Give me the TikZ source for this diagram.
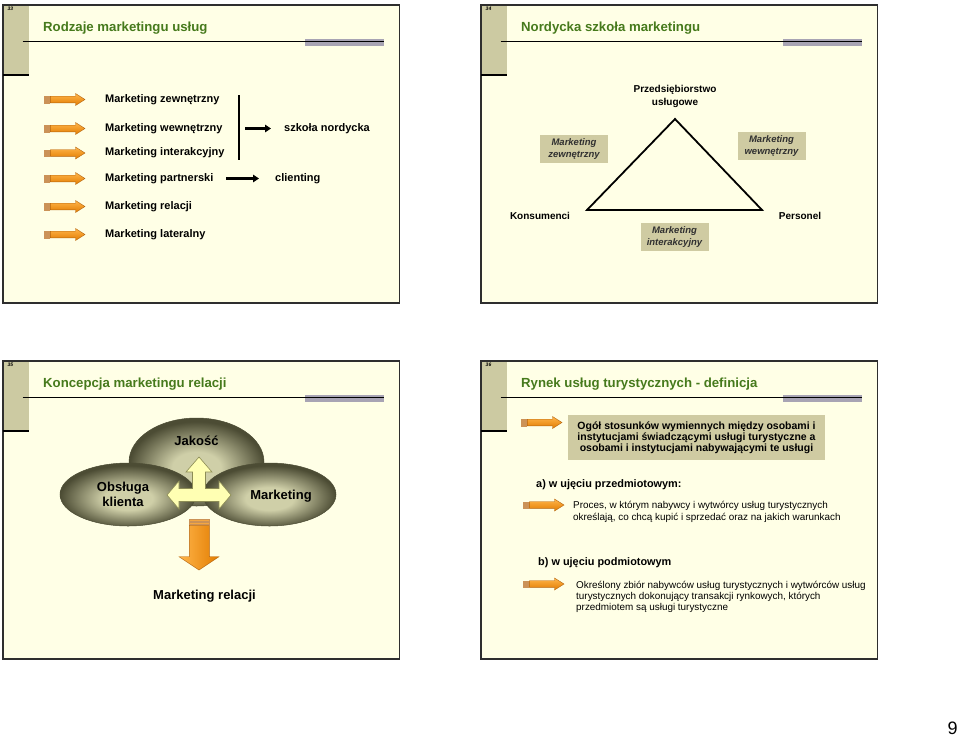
\documentclass[tikz,border=0pt]{standalone}
\usepackage{fontspec}
\setmainfont{Liberation Sans}
\usetikzlibrary{arrows.meta,shapes.geometric}
\definecolor{cream}{HTML}{FFFFE6}
\definecolor{tanstrip}{HTML}{CCCAA2}
\definecolor{ttlgreen}{HTML}{467A1C}
\definecolor{graybar}{HTML}{A8A4B4}
\definecolor{framec}{HTML}{2E2E2E}
\definecolor{orA}{HTML}{FFB54A}
\definecolor{orB}{HTML}{F7981E}
\definecolor{orC}{HTML}{E27C00}
\definecolor{orD}{HTML}{B4640F}
\definecolor{orS}{HTML}{F4A640}
\definecolor{boxtan}{HTML}{CFCBA2}
\definecolor{olD}{HTML}{4C4C34}
\definecolor{olL}{HTML}{CFCFA8}
\definecolor{yel}{HTML}{FFFFB3}
\definecolor{yelD}{HTML}{8C8C55}
\definecolor{boxtext}{HTML}{303030}
\pgfdeclareradialshading{olive}{\pgfpoint{0bp}{-4bp}}{color(0bp)=(olL); color(9bp)=(olL); color(25bp)=(olD); color(50bp)=(olD)}
\newcommand\myfs[2]{\fontsize{#1}{#2}\selectfont}
\tikzset{
  orarrow/.pic={
    \filldraw[fill=orS,draw=orD!70,line width=0.2] (0,-3.3) rectangle (1,3.3);
    \filldraw[fill=orS,draw=orD!70,line width=0.2] (2,-3.3) rectangle (3,3.3);
    \filldraw[fill=orS,draw=orD!70,line width=0.2] (4,-3.3) rectangle (5.2,3.3);
    \path[top color=orA,bottom color=orC,draw=orD,line width=0.4]
      (6.3,-3.3) -- (31.5,-3.3) -- (31.5,-6) -- (41,0) -- (31.5,6) -- (31.5,3.3) -- (6.3,3.3) -- cycle;
  },
  ttl/.style={font=\bfseries\myfs{13.2}{15}, text=ttlgreen, anchor=base west, inner sep=0},
  item/.style={font=\bfseries\myfs{11}{13}, anchor=west, inner sep=0},
  blk/.style={line width=2.2, -{Triangle[length=6,width=7.5]}},
  mbox/.style={fill=boxtan, minimum width=68, minimum height=28, inner sep=0, align=center,
    font=\bfseries\itshape\myfs{9.5}{12}, text=boxtext},
  lbl/.style={font=\bfseries\myfs{10}{12.5}, inner sep=0, align=center},
  big/.style={font=\bfseries\myfs{13}{15}, inner sep=0, align=center},
  txt/.style={font=\myfs{9.9}{12.5}, inner sep=0, align=left, anchor=west},
  snum/.style={font=\bfseries\itshape\myfs{5}{6}, inner sep=0}
}
\begin{document}
\begin{tikzpicture}[x=1pt,y=-1pt]
\useasboundingbox (0,0) rectangle (960,737);
\fill[white] (0,0) rectangle (960,737);
% slide frames
\foreach \dx/\dy/\num in {0/0/33, 478/0/34, 0/356/35, 478/356/36}{
  \begin{scope}[shift={(\dx,\dy)}]
    \filldraw[fill=cream, draw=framec, line width=1.4] (3,5) rectangle (399.5,303);
    \fill[tanstrip] (3.7,5.7) rectangle (28.5,75);
    \draw[line width=1.2] (3,75) -- (28.5,75);
    \fill[graybar] (305,38.5) rectangle (384,45.5);
    \draw[line width=0.9] (22.5,41) -- (384,41);
    \node[snum] (n\num) at (10.5,9) {\num};
  \end{scope}
}
% titles
\node[ttl] (t33) at (43,31) {Rodzaje marketingu usług};
\node[ttl] (t34) at (521,31) {Nordycka szkoła marketingu};
\node[ttl] (t35) at (43,387) {Koncepcja marketingu relacji};
\node[ttl] (t36) at (521,387) {Rynek usług turystycznych - definicja};

% ---------- slide 33 ----------
\pic (a1) at (44,99.5) {orarrow};
\pic (a2) at (44,128.5) {orarrow};
\pic (a3) at (44,153) {orarrow};
\pic (a4) at (44,178.5) {orarrow};
\pic (a5) at (44,206.5) {orarrow};
\pic (a6) at (44,234.5) {orarrow};
\node[item] (m1) at (105,99.5) {Marketing zewnętrzny};
\node[item] (m2) at (105,128.5) {Marketing wewnętrzny};
\node[item] (m3) at (105,153) {Marketing interakcyjny};
\node[item] (m4) at (105,178.5) {Marketing partnerski};
\node[item] (m5) at (105,206.5) {Marketing relacji};
\node[item] (m6) at (105,234.5) {Marketing lateralny};
\coordinate (bt) at (239,95);
\coordinate (bb) at (239,160);
\draw[line width=1.5] (bt) -- (bb);
\node[item] (nord) at (284,128.5) {szkoła nordycka};
\node[item] (cli) at (275,178.5) {clienting};
\coordinate (s1) at (245,128.5);
\coordinate (e1) at (271,128.5);
\draw[blk] (s1) -- (e1);
\coordinate (s2) at (226,178.5);
\coordinate (e2) at (259,178.5);
\draw[blk] (s2) -- (e2);

% ---------- slide 34 ----------
\node[lbl] (firm) at (675,96.5) {Przedsiębiorstwo\\usługowe};
\coordinate (apex) at (675,119);
\coordinate (bl) at (587,210);
\coordinate (br) at (762,210);
\draw[line width=1.8, line join=miter] (apex) -- (bl) -- (br) -- cycle;
\node[lbl] (kons) at (540,216) {Konsumenci};
\node[lbl] (pers) at (800,216) {Personel};
\node[mbox] (bz) at (574,149) {Marketing\\zewnętrzny};
\node[mbox] (bw) at (771.5,146) {Marketing\\wewnętrzny};
\node[mbox] (bi) at (674.5,237) {Marketing\\interakcyjny};

% ---------- slide 35 ----------
\path[shading=olive, draw=olD, line width=0.5] (196.5,462) ellipse [x radius=67.5, y radius=44];
\path[shading=olive, draw=olD, line width=0.5] (128,494.5) ellipse [x radius=68, y radius=31.5];
\path[shading=olive, draw=olD, line width=0.5] (269.5,494.5) ellipse [x radius=66.5, y radius=31.5];
\node[big] (jak) at (196.5,441) {Jakość};
\node[big] (obs) at (123,494.5) {Obsługa\\klienta};
\node[big] (mkt) at (281,496) {Marketing};
\filldraw[fill=yel, draw=yelD, line width=0.6, line join=miter]
  (167,495) -- (179,481) -- (179,488.5) -- (192.5,488.5) -- (192.5,472) -- (186,472) -- (199,457)
  -- (212,472) -- (205.5,472) -- (205.5,488.5) -- (219,488.5) -- (219,481) -- (231,495)
  -- (219,509) -- (219,501.5) -- (179,501.5) -- (179,509) -- cycle;
\filldraw[fill=orS, draw=orD!70, line width=0.2] (189.3,519.3) rectangle (209.3,520.7);
\filldraw[fill=orS, draw=orD!70, line width=0.2] (189.3,522) rectangle (209.3,524);
\path[left color=orA, right color=orC, draw=orD, line width=0.4]
  (189.3,525.3) -- (209.3,525.3) -- (209.3,556.7) -- (219,556.7) -- (199,570) -- (179,556.7) -- (189.3,556.7) -- cycle;
\node[big] (rel) at (204.5,596) {Marketing relacji};

% ---------- slide 36 ----------
\pic (b1) at (521,422.5) {orarrow};
\node[fill=boxtan, minimum width=257, minimum height=45, inner sep=0, align=center,
  font=\bfseries\myfs{10.5}{10.8}] (def) at (696.5,437.5)
  {Ogół stosunków wymiennych między osobami i\\instytucjami świadczącymi usługi turystyczne a\\osobami i instytucjami nabywającymi te usługi};
\node[item, font=\bfseries\myfs{10.9}{13}] (pa) at (536,485) {a) w ujęciu przedmiotowym:};
\pic (b2) at (523,505) {orarrow};
\node[txt] (proc) at (573,512) {Proces, w którym nabywcy i wytwórcy usług turystycznych\\określają, co chcą kupić i sprzedać oraz na jakich warunkach};
\node[item, font=\bfseries\myfs{10.9}{13}] (pb) at (538,563) {b) w ujęciu podmiotowym};
\pic (b3) at (523,584) {orarrow};
\node[txt, font=\myfs{9.9}{11}] (okr) at (576,597) {Określony zbiór nabywców usług turystycznych i wytwórców usług\\turystycznych dokonujący transakcji rynkowych, których\\przedmiotem są usługi turystyczne};

% page number
\node[font=\myfs{18}{20}, inner sep=0] (pg) at (952.5,728.5) {9};
\end{tikzpicture}
\end{document}
